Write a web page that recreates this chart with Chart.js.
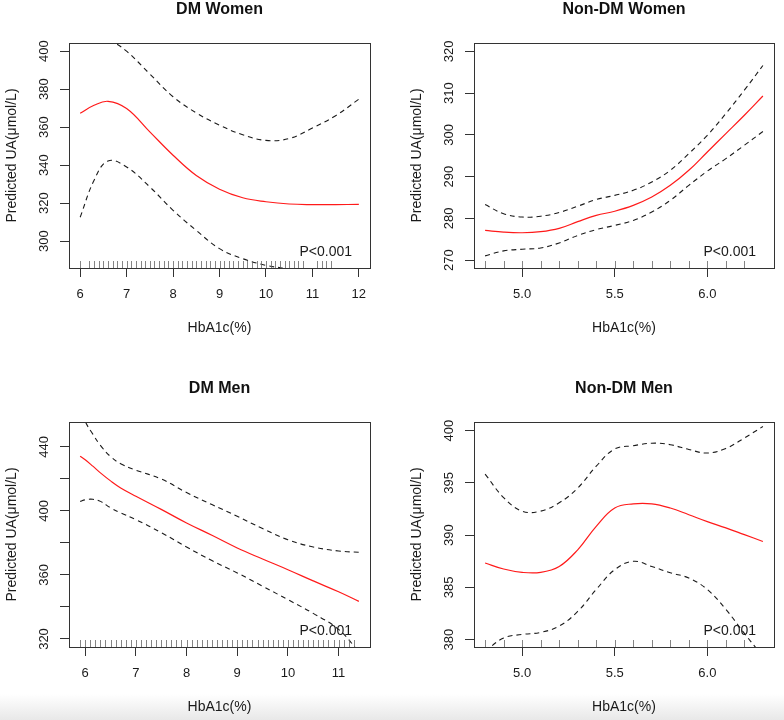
<!DOCTYPE html>
<html>
<head>
<meta charset="utf-8">
<title>Predicted UA by HbA1c</title>
<script src="https://cdn.jsdelivr.net/npm/chart.js@4.4.0/dist/chart.umd.min.js"></script>
<style>
  html, body { margin: 0; padding: 0; background: #fff; }
  #page { position: relative; width: 784px; height: 720px; overflow: hidden; }
  #shade { position: absolute; left: 0; right: 0; bottom: 0; height: 26px; background: linear-gradient(#fff, #e8e8e8); }
  canvas { position: absolute; }
</style>
</head>
<body>
<div id="page">
  <div id="shade"></div>
  <canvas id="dmWomen" width="392" height="360" style="left:0;top:0"></canvas>
  <canvas id="nonDmWomen" width="392" height="360" style="left:392px;top:0"></canvas>
  <canvas id="dmMen" width="392" height="360" style="left:0;top:360px"></canvas>
  <canvas id="nonDmMen" width="392" height="360" style="left:392px;top:360px"></canvas>
</div>
<script>
// ---- DM Women ----
const dmWomenX     = [6.0, 6.3, 6.6, 7.0, 7.5, 8.0, 8.5, 9.0, 9.5, 10.0, 10.5, 11.0, 11.5, 12.0];
const dmWomenFit   = [367.3, 371.5, 373.6, 369.8, 357.5, 345.2, 334.5, 327.3, 322.8, 320.7, 319.5, 319.2, 319.2, 319.3];
const dmWomenUpper = [424, 414, 407, 400, 388, 376, 367.5, 361, 356, 353, 354, 359.5, 366, 374.7];
const dmWomenLower = [312.5, 332, 342.2, 339, 328.5, 316.2, 305.6, 296, 290.7, 287.2, 284.8, 279, 272, 264];
const dmWomenRug   = [6.0, 6.2, 6.3, 6.4, 6.5, 6.6, 6.7, 6.8, 6.9, 7.0, 7.1, 7.2, 7.3, 7.4, 7.5, 7.6, 7.7, 7.8, 7.9,
                      8.0, 8.1, 8.2, 8.3, 8.4, 8.5, 8.6, 8.7, 8.8, 8.9, 9.0, 9.1, 9.2, 9.3, 9.4, 9.5, 9.6, 9.7, 9.8, 9.9,
                      10.0, 10.1, 10.2, 10.3, 10.4, 10.5, 10.6, 10.7, 10.8, 11.1, 11.2, 11.3, 11.4];
const dmWomenXTicks = [6, 7, 8, 9, 10, 11, 12];
const dmWomenXLabels = ['6', '7', '8', '9', '10', '11', '12'];
const dmWomenYTicks = [300, 320, 340, 360, 380, 400];
const dmWomenYLabels = ['300', '320', '340', '360', '380', '400'];
const dmWomenYRange = [285.8, 404.3];

// ---- Non-DM Women ----
const nonDmWomenX     = [4.8, 4.9, 5.0, 5.1, 5.2, 5.3, 5.4, 5.5, 5.6, 5.7, 5.8, 5.9, 6.0, 6.1, 6.2, 6.3];
const nonDmWomenFit   = [277.1, 276.7, 276.55, 276.8, 277.6, 279.2, 280.7, 281.7, 283.1, 285.1, 287.9, 291.5, 295.9, 300.3, 304.7, 309.3];
const nonDmWomenUpper = [283.3, 281.1, 280.3, 280.5, 281.4, 282.9, 284.5, 285.5, 286.7, 288.7, 291.5, 295.5, 299.9, 305.1, 310.7, 316.6];
const nonDmWomenLower = [271.0, 272.2, 272.6, 272.9, 274.1, 275.9, 277.3, 278.3, 279.5, 281.5, 284.3, 287.9, 291.3, 294.3, 297.5, 300.8];
const nonDmWomenRug   = [4.8, 4.9, 5.0, 5.1, 5.2, 5.3, 5.4, 5.5, 5.6, 5.7, 5.8, 5.9, 6.0, 6.1, 6.2];
const nonDmWomenXTicks = [5.0, 5.5, 6.0];
const nonDmWomenXLabels = ['5.0', '5.5', '6.0'];
const nonDmWomenYTicks = [270, 280, 290, 300, 310, 320];
const nonDmWomenYLabels = ['270', '280', '290', '300', '310', '320'];
const nonDmWomenYRange = [268.1, 322.0];

// ---- DM Men ----
const dmMenX     = [5.9, 6.0, 6.15, 6.3, 6.5, 6.7, 7.0, 7.5, 8.0, 8.5, 9.0, 9.5, 10.0, 10.5, 11.0, 11.4];
const dmMenFit   = [434.2, 432.0, 428.0, 423.8, 418.8, 414.4, 409.2, 401.0, 392.5, 384.8, 376.9, 370.0, 363.3, 356.3, 349.5, 343.5];
const dmMenUpper = [466, 456, 448, 441, 434, 429.5, 425.5, 420, 411.5, 404, 396.7, 389, 382, 377.5, 375, 374.2];
const dmMenLower = [406, 407, 407.3, 406, 402, 398.8, 394.6, 386.5, 377.5, 369, 361.3, 353, 344.6, 336, 326, 312];
const dmMenRug   = [5.9, 6.0, 6.1, 6.2, 6.3, 6.4, 6.5, 6.6, 6.7, 6.8, 6.9, 7.0, 7.1, 7.2, 7.3, 7.4, 7.5, 7.6, 7.7, 7.8, 7.9,
                    8.0, 8.1, 8.2, 8.3, 8.4, 8.5, 8.6, 8.7, 8.8, 8.9, 9.0, 9.1, 9.2, 9.3, 9.4, 9.5, 9.6, 9.7, 9.8, 9.9,
                    10.0, 10.1, 10.2, 10.3, 10.4, 10.5, 10.6, 10.7, 10.8, 10.9, 11.0, 11.1, 11.2, 11.3];
const dmMenXTicks = [6, 7, 8, 9, 10, 11];
const dmMenXLabels = ['6', '7', '8', '9', '10', '11'];
const dmMenYTicks = [320, 340, 360, 380, 400, 420, 440];
const dmMenYLabels = ['320', '', '360', '', '400', '', '440'];
const dmMenYRange = [315, 455.6];

// ---- Non-DM Men ----
const nonDmMenX     = [4.8, 4.9, 5.0, 5.1, 5.2, 5.3, 5.4, 5.5, 5.6, 5.7, 5.8, 5.9, 6.0, 6.1, 6.2, 6.3];
const nonDmMenFit   = [387.34, 386.76, 386.44, 386.44, 387.0, 388.6, 390.85, 392.6, 393.0, 393.0, 392.6, 391.96, 391.3, 390.7, 390.05, 389.4];
const nonDmMenUpper = [395.85, 393.6, 392.3, 392.3, 393.1, 394.5, 396.6, 398.25, 398.56, 398.8, 398.66, 398.2, 397.86, 398.3, 399.3, 400.4];
const nonDmMenLower = [378.9, 380.16, 380.5, 380.7, 381.3, 382.7, 384.8, 386.7, 387.5, 387.0, 386.4, 385.9, 384.8, 382.9, 380.6, 378.4];
const nonDmMenRug   = [4.8, 4.9, 5.0, 5.1, 5.2, 5.3, 5.4, 5.5, 5.6, 5.7, 5.8, 5.9, 6.0, 6.1, 6.2];
const nonDmMenXTicks = [5.0, 5.5, 6.0];
const nonDmMenXLabels = ['5.0', '5.5', '6.0'];
const nonDmMenYTicks = [380, 385, 390, 395, 400];
const nonDmMenYLabels = ['380', '385', '390', '395', '400'];
const nonDmMenYRange = [379.3, 400.83];

const xTitle = 'HbA1c(%)';
const yTitle = 'Predicted UA(\u03bcmol/L)';
const pText = 'P<0.001';

Chart.defaults.font.family = '"Liberation Sans", Arial, Helvetica, sans-serif';
Chart.defaults.color = '#1a1a1a';

// box, rug, panel title and p-value, R style
const rDecor = {
  id: 'rDecor',
  afterDatasetsDraw(chart, args, opts) {
    const { ctx, chartArea: a, scales: { x } } = chart;
    ctx.save();
    ctx.strokeStyle = '#666';
    ctx.lineWidth = 0.8;
    ctx.beginPath();
    opts.rug.forEach(v => {
      const px = Math.round(x.getPixelForValue(v)) + 0.5;
      ctx.moveTo(px, a.bottom);
      ctx.lineTo(px, a.bottom - 7);
    });
    ctx.stroke();

    ctx.strokeStyle = '#333';
    ctx.lineWidth = 1;
    ctx.strokeRect(Math.round(a.left) + 0.5, Math.round(a.top) + 0.5,
      Math.round(a.right - a.left), Math.round(a.bottom - a.top));

    ctx.fillStyle = '#111';
    ctx.textBaseline = 'middle';
    ctx.textAlign = 'center';
    ctx.font = 'bold 16px "Liberation Sans", Arial, sans-serif';
    ctx.fillText(opts.title, (a.left + a.right) / 2, opts.titleY);

    ctx.fillStyle = '#1a1a1a';
    ctx.textAlign = 'right';
    ctx.font = '14px "Liberation Sans", Arial, sans-serif';
    ctx.fillText(pText, a.right - 18, a.bottom - 16);
    ctx.restore();
  }
};

function makePanel(id, p) {
  const span = p.x[p.x.length - 1] - p.x[0];
  const pts = ys => p.x.map((x, i) => ({ x: x, y: ys[i] }));
  new Chart(document.getElementById(id), {
    type: 'line',
    data: {
      datasets: [
        { data: pts(p.fit), borderColor: '#ff1a1a', borderWidth: 1.2 },
        { data: pts(p.upper), borderColor: '#1a1a1a', borderWidth: 1.1, borderDash: [5, 4] },
        { data: pts(p.lower), borderColor: '#1a1a1a', borderWidth: 1.1, borderDash: [5, 4] }
      ]
    },
    options: {
      responsive: false,
      animation: false,
      events: [],
      layout: { padding: { top: p.top, right: 392 - p.right, bottom: 0, left: 0 } },
      elements: { point: { radius: 0 }, line: { tension: 0.4 } },
      scales: {
        x: {
          type: 'linear',
          min: p.x[0] - 0.04 * span,
          max: p.x[p.x.length - 1] + 0.04 * span,
          afterBuildTicks: s => { s.ticks = p.xTicks.map(v => ({ value: v })); },
          afterFit: s => { s.height = 360 - p.bottom; },
          grid: { drawOnChartArea: false, tickLength: 9, tickColor: '#333' },
          border: { display: false },
          ticks: {
            autoSkip: false, maxRotation: 0, padding: 10,
            font: { size: 13 },
            callback: (v, i) => p.xLabels[i]
          },
          title: { display: true, text: xTitle, font: { size: 14 }, padding: { top: 0, bottom: 360 - p.bottom - 60 - 8.4 } }
        },
        y: {
          type: 'linear',
          min: p.yRange[0],
          max: p.yRange[1],
          afterBuildTicks: s => { s.ticks = p.yTicks.map(v => ({ value: v })); },
          afterFit: s => { s.width = p.left; },
          grid: { drawOnChartArea: false, tickLength: 9, tickColor: '#333' },
          border: { display: false },
          ticks: {
            autoSkip: false, minRotation: 90, maxRotation: 90, crossAlign: 'center', padding: 5,
            font: { size: 13 },
            callback: (v, i) => p.yLabels[i]
          },
          title: { display: true, text: yTitle, font: { size: 14 }, padding: { top: p.left - 57 - 8.4, bottom: 0 } }
        }
      },
      plugins: {
        legend: { display: false },
        tooltip: { enabled: false },
        rDecor: { rug: p.rug, title: p.title, titleY: p.titleY }
      }
    },
    plugins: [rDecor]
  });
}

makePanel('dmWomen', {
  title: 'DM Women', x: dmWomenX, fit: dmWomenFit, upper: dmWomenUpper, lower: dmWomenLower, rug: dmWomenRug,
  xTicks: dmWomenXTicks, xLabels: dmWomenXLabels, yTicks: dmWomenYTicks, yLabels: dmWomenYLabels, yRange: dmWomenYRange,
  left: 69, right: 370, top: 43, bottom: 268, titleY: 10
});
makePanel('nonDmWomen', {
  title: 'Non-DM Women', x: nonDmWomenX, fit: nonDmWomenFit, upper: nonDmWomenUpper, lower: nonDmWomenLower, rug: nonDmWomenRug,
  xTicks: nonDmWomenXTicks, xLabels: nonDmWomenXLabels, yTicks: nonDmWomenYTicks, yLabels: nonDmWomenYLabels, yRange: nonDmWomenYRange,
  left: 82, right: 382, top: 43, bottom: 268, titleY: 10
});
makePanel('dmMen', {
  title: 'DM Men', x: dmMenX, fit: dmMenFit, upper: dmMenUpper, lower: dmMenLower, rug: dmMenRug,
  xTicks: dmMenXTicks, xLabels: dmMenXLabels, yTicks: dmMenYTicks, yLabels: dmMenYLabels, yRange: dmMenYRange,
  left: 69, right: 370, top: 62, bottom: 287, titleY: 29
});
makePanel('nonDmMen', {
  title: 'Non-DM Men', x: nonDmMenX, fit: nonDmMenFit, upper: nonDmMenUpper, lower: nonDmMenLower, rug: nonDmMenRug,
  xTicks: nonDmMenXTicks, xLabels: nonDmMenXLabels, yTicks: nonDmMenYTicks, yLabels: nonDmMenYLabels, yRange: nonDmMenYRange,
  left: 82, right: 382, top: 62, bottom: 287, titleY: 29
});
</script>
</body>
</html>
